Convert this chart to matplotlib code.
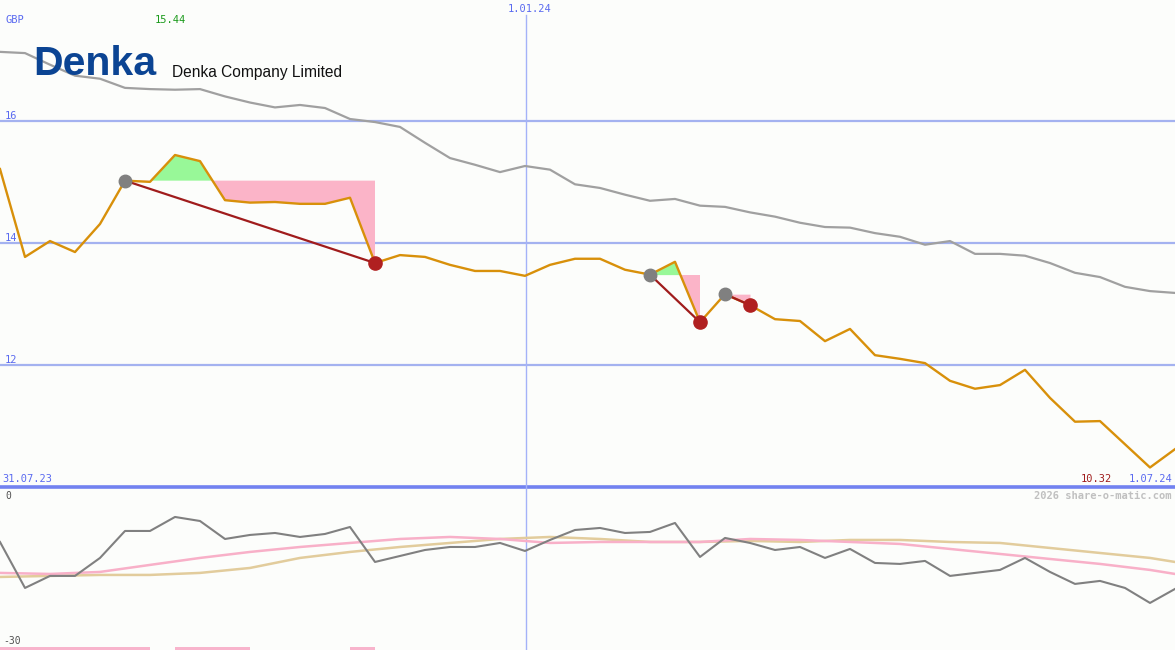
import matplotlib
matplotlib.use('Agg')
import matplotlib.pyplot as plt
import numpy as np

# weekly closes, Denka Company Limited (GBP)
price = [15.21, 13.77, 14.03, 13.85, 14.31, 15.02, 15.00, 15.44, 15.34, 14.70,
         14.66, 14.67, 14.64, 14.64, 14.74, 13.67, 13.80, 13.77, 13.64, 13.54,
         13.54, 13.46, 13.64, 13.74, 13.74, 13.56, 13.48, 13.69, 12.70, 13.16,
         12.98, 12.75, 12.72, 12.39, 12.59, 12.16, 12.10, 12.03, 11.74, 11.61,
         11.67, 11.92, 11.46, 11.07, 11.08, 10.70, 10.32, 10.62]
avg_long = [17.13, 17.11, 16.92, 16.74, 16.69, 16.54, 16.52, 16.51, 16.52, 16.40,
            16.30, 16.22, 16.26, 16.21, 16.03, 15.98, 15.90, 15.64, 15.39, 15.28,
            15.16, 15.26, 15.20, 14.96, 14.90, 14.79, 14.69, 14.72, 14.61, 14.59,
            14.50, 14.43, 14.33, 14.26, 14.25, 14.16, 14.10, 13.97, 14.03, 13.82,
            13.82, 13.79, 13.67, 13.51, 13.44, 13.28, 13.21, 13.18]

# trades: (entry week, exit week)
trades = [(5, 15), (26, 28), (29, 30)]

# lower indicator
momentum = [-10.06, -18.96, -16.63, -16.63, -13.15, -7.93, -7.93, -5.22, -6.00, -9.48,
            -8.70, -8.32, -9.09, -8.51, -7.16, -13.93, -12.77, -11.61, -11.03, -11.03,
            -10.25, -11.80, -9.67, -7.74, -7.35, -8.32, -8.12, -6.38, -12.96, -9.28,
            -10.25, -11.61, -11.03, -13.15, -11.41, -14.12, -14.31, -13.73, -16.63, -16.05,
            -15.47, -13.15, -15.86, -18.18, -17.60, -18.96, -21.86, -19.15]
slow_x = [0, 2, 4, 6, 8, 10, 12, 14, 16, 18, 20, 22, 24, 26, 28, 30, 32, 34,
          36, 38, 40, 42, 44, 46, 47]
pink_avg = [-16.05, -16.25, -15.86, -14.50, -13.15, -11.99, -11.03, -10.25, -9.48, -9.09,
            -9.48, -10.25, -10.06, -10.06, -10.06, -9.48, -9.67, -10.06, -10.44, -11.41,
            -12.38, -13.35, -14.31, -15.47, -16.25]
tan_avg = [-16.83, -16.63, -16.44, -16.44, -16.05, -15.09, -13.15, -11.99, -11.03, -10.25,
           -9.48, -9.09, -9.48, -10.06, -10.06, -9.86, -10.06, -9.67, -9.67, -10.06,
           -10.25, -11.22, -12.19, -13.15, -13.93]
loss_spans = [(0, 6), (7, 10), (14, 15)]

price_levels = [16, 14, 12]
date_labels = ['31.07.23', '1.01.24', '1.07.24']
year_week = 21.04

bg = '#fcfdfb'
W, H = 1175, 650
fig = plt.figure(figsize=(W / 100, H / 100), dpi=100, facecolor=bg)

ax = fig.add_axes([0, 163 / H, 1, 487 / H], facecolor=bg)
ax2 = fig.add_axes([0, 0, 1, 163 / H], facecolor=bg)
for a in (ax, ax2):
    a.set_xlim(0, 47)
    a.axis('off')
ax.set_ylim(10, 17.98)
ax2.set_ylim(-30.97, 0.58)

x = np.arange(len(price))
p = np.array(price)

for lv in price_levels:
    ax.axhline(lv, color='#a4b2f0', lw=1.6, zorder=1)
ax.axhline(10, color='#7282f0', lw=2.6, zorder=1, clip_on=False)
ax.axvline(year_week, ymax=(487 - 15) / 487, color='#a4b2f8', lw=1, zorder=1)
ax2.axvline(year_week, color='#a4b2f8', lw=1, zorder=1)

ax.plot(x, avg_long, color='#a0a0a0', lw=1.6, zorder=2)

for i0, i1 in trades:
    xs = x[i0:i1 + 1]
    ps = p[i0:i1 + 1]
    lv = p[i0]
    ax.fill_between(xs, lv, ps, where=ps >= lv, interpolate=True,
                    color='#98f898', lw=0, zorder=2)
    ax.fill_between(xs, lv, ps, where=ps <= lv, interpolate=True,
                    color='#fbb4c8', lw=0, zorder=2)

ax.plot(x, p, color='#d8900a', lw=1.7, zorder=3)

for i0, i1 in trades:
    ax.plot([x[i0], x[i1]], [p[i0], p[i1]], color='#a01c1c', lw=1.6, zorder=4)
    ax.plot(x[i0], p[i0], 'o', color='#808080', ms=9, zorder=5)
    ax.plot(x[i1], p[i1], 'o', color='#b02020', ms=9.5, zorder=5)

ax2.plot(slow_x, tan_avg, color='#e2cc9c', lw=1.8, zorder=2)
ax2.plot(slow_x, pink_avg, color='#f8b0c8', lw=1.8, zorder=2)
ax2.plot(x, momentum, color='#808080', lw=1.5, zorder=3)
ax2.broken_barh([(a, b - a) for a, b in loss_spans], (-30.97, 0.6),
                color='#f8b4cc', lw=0)

mono = 'DejaVu Sans Mono'


def px_text(px, py, s, **kw):
    fig.text(px / W, 1 - py / H, s, **kw)


px_text(5, 20, 'GBP', color='#5a6af0', family=mono, fontsize=7.5, va='center')
px_text(155, 20, '%.2f' % max(price), color='#1a9a1a', family=mono, fontsize=7.5,
        va='center')
px_text(530, 9, date_labels[1], color='#5a6af0', family=mono, fontsize=7.5,
        va='center', ha='center')
for lv in price_levels:
    px_text(5, 487 - (lv - 10) * 61 - 5, str(lv), color='#5a6af0', family=mono,
            fontsize=7.5, va='center')
px_text(2, 479, date_labels[0], color='#5a6af0', family=mono, fontsize=7.5,
        va='center')
px_text(1172, 479, date_labels[2], color='#5a6af0', family=mono, fontsize=7.5,
        va='center', ha='right')
px_text(1112, 479, '%.2f' % min(price), color='#a01c1c', family=mono, fontsize=7.5,
        va='center', ha='right')
px_text(1172, 496, '2026 share-o-matic.com', color='#c0c0c0', family=mono,
        fontsize=7.5, fontweight='bold', va='center', ha='right')
px_text(5, 496, '0', color='#505050', family=mono, fontsize=7, va='center')
px_text(3, 641, '-30', color='#505050', family=mono, fontsize=7, va='center')

px_text(33, 64, 'Denka', color='#0b4493', family='Liberation Sans',
        fontweight='bold', fontsize=29.5, va='center')
px_text(172, 73, 'Denka Company Limited', color='#111111', family='Liberation Sans',
        fontsize=11.2, va='center')

fig.savefig('out.png', dpi=100, facecolor=bg)
